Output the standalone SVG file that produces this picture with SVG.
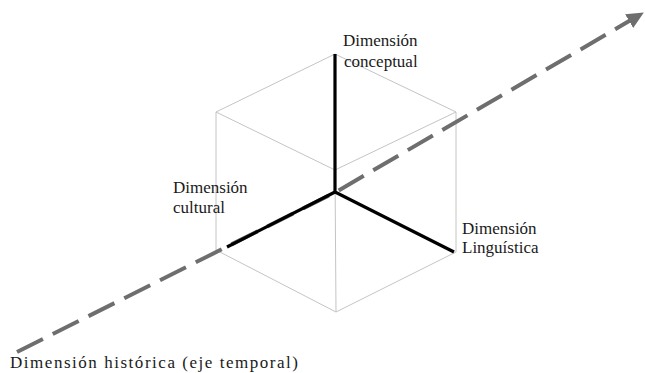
<svg xmlns="http://www.w3.org/2000/svg" width="645" height="373" viewBox="0 0 645 373">
<style>
.edge{fill:none;stroke:#c4c4c4;stroke-width:1}
.axis{fill:none;stroke:#000;stroke-width:3.2;stroke-linecap:butt;stroke-linejoin:miter}
.time{fill:none;stroke:#6e6e6e;stroke-width:4;stroke-dasharray:29 11}
.lbl{font-family:"Liberation Serif","Times New Roman",serif;font-size:17px;fill:#1a1a1a}
</style>
<defs>
<marker id="arr" markerUnits="userSpaceOnUse" markerWidth="18" markerHeight="16" refX="1" refY="8" orient="auto">
<path d="M0,0 L17,8 L0,16 z" fill="#6e6e6e"/>
</marker>
</defs>
<rect width="645" height="373" fill="#fff"/>
<g id="cube">
<path class="edge" d="M335,54 L216,112 L335,170 L456,112 Z"/>
<path class="edge" d="M216,112 L216,250 L336,312 L456,252 L456,112"/>
<path class="edge" d="M335,170 L336,312"/>
</g>
<g id="connectors">
<polyline class="time" points="17,352 336,192 630,20.6" marker-end="url(#arr)"/>
<path class="axis" d="M335,54 L335,192 L454,252"/>
<path class="axis" d="M335,192 L227,247"/>
</g>
<g id="conceptual">
<text class="lbl" x="343" y="46">Dimensión</text>
<text class="lbl" x="344" y="67">conceptual</text>
</g>
<g id="cultural">
<text class="lbl" x="173" y="193">Dimensión</text>
<text class="lbl" x="173" y="213">cultural</text>
</g>
<g id="linguistica">
<text class="lbl" x="462" y="234">Dimensión</text>
<text class="lbl" x="462" y="253">Linguística</text>
</g>
<g id="historica">
<text class="lbl" x="10" y="368" textLength="288" lengthAdjust="spacing">Dimensión histórica (eje temporal)</text>
</g>
</svg>
